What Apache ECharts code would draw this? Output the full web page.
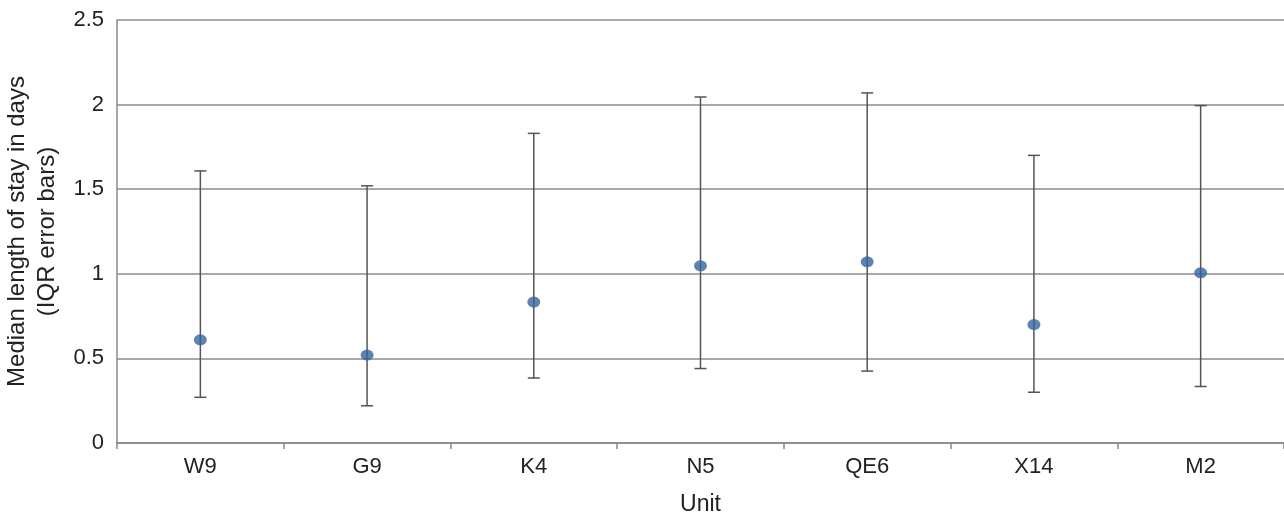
<!DOCTYPE html>
<html>
<head>
<meta charset="utf-8">
<script src="https://cdn.jsdelivr.net/npm/echarts@6/dist/echarts.min.js"></script>
<style>
html,body{margin:0;padding:0;background:#fff;}
#c{width:1284px;height:519px;}
</style>
</head>
<body>
<div id="c"></div>
<script>
const categories = ['W9', 'G9', 'K4', 'N5', 'QE6', 'X14', 'M2'];
const medians = [0.61, 0.52, 0.833, 1.047, 1.071, 0.70, 1.006];
const lowerQ = [0.27, 0.22, 0.384, 0.44, 0.425, 0.30, 0.334];
const upperQ = [1.608, 1.52, 1.83, 2.045, 2.069, 1.70, 1.994];
const yTicks = [0, 0.5, 1, 1.5, 2, 2.5];

const errData = categories.map((c, i) => [i, lowerQ[i], upperQ[i]]);
const font = 'Liberation Sans, Arial, Helvetica, sans-serif';

const chart = echarts.init(document.getElementById('c'), null, {renderer: 'canvas'});
chart.setOption({
  animation: false,
  backgroundColor: '#fff',
  grid: {left: 117, right: 0, top: 20, bottom: 76, containLabel: false, outerBoundsMode: 'none'},
  xAxis: {
    type: 'category',
    data: categories,
    boundaryGap: true,
    name: 'Unit',
    nameLocation: 'middle',
    nameGap: 50,
    nameTextStyle: {fontFamily: font, fontSize: 23, color: '#222'},
    axisLine: {show: true, lineStyle: {color: '#888', width: 1.5}},
    axisTick: {show: true, length: 6, lineStyle: {color: '#888', width: 1.5}},
    axisLabel: {fontFamily: font, fontSize: 22, color: '#222', margin: 13},
    splitLine: {show: false}
  },
  yAxis: {
    type: 'value',
    min: yTicks[0],
    max: yTicks[yTicks.length - 1],
    interval: 0.5,
    name: 'Median length of stay in days\n(IQR error bars)',
    nameLocation: 'middle',
    nameGap: 46,
    nameRotate: 90,
    nameTextStyle: {fontFamily: font, fontSize: 24, color: '#222', lineHeight: 30, align: 'center'},
    axisLine: {show: true, lineStyle: {color: '#888', width: 1.5}},
    axisTick: {show: false},
    axisLabel: {fontFamily: font, fontSize: 22, color: '#222', margin: 13},
    splitLine: {show: true, lineStyle: {color: '#8c8c8c', width: 1.5}}
  },
  series: [
    {
      type: 'custom',
      data: errData,
      z: 2,
      renderItem: function (params, api) {
        const x = api.value(0);
        const lo = api.coord([x, api.value(1)]);
        const hi = api.coord([x, api.value(2)]);
        const hw = 6;
        const style = {stroke: '#555', lineWidth: 1.5};
        return {
          type: 'group',
          children: [
            {type: 'line', shape: {x1: lo[0], y1: lo[1], x2: hi[0], y2: hi[1]}, style: style},
            {type: 'line', shape: {x1: lo[0] - hw, y1: lo[1], x2: lo[0] + hw, y2: lo[1]}, style: style},
            {type: 'line', shape: {x1: hi[0] - hw, y1: hi[1], x2: hi[0] + hw, y2: hi[1]}, style: style}
          ]
        };
      }
    },
    {
      type: 'scatter',
      data: medians,
      z: 3,
      symbol: 'circle',
      symbolSize: [13, 11],
      itemStyle: {color: '#35659c'}
    }
  ]
});
</script>
</body>
</html>
